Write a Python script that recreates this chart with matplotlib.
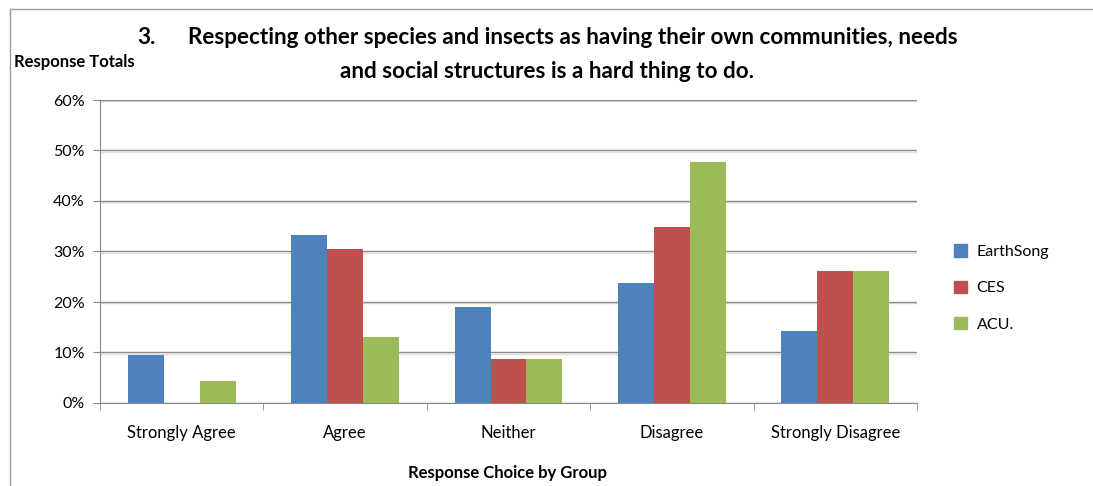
import numpy as np
import matplotlib.pyplot as plt
from matplotlib.patches import Rectangle
from matplotlib.lines import Line2D

categories = ["Strongly Agree", "Agree", "Neither", "Disagree", "Strongly Disagree"]
groups = ["EarthSong", "CES", "ACU."]
earthsong = [9.5, 33.3, 19.0, 23.8, 14.3]
ces = [0.0, 30.4, 8.7, 34.8, 26.1]
acu = [4.3, 13.0, 8.7, 47.8, 26.1]
colors = ["#4f81bd", "#c0504d", "#9bbb59"]

plt.rcParams['font.family'] = ['Lato', 'DejaVu Sans']

fig = plt.figure(figsize=(10.93, 4.86), dpi=100)
ax = fig.add_axes([100 / 1093, 1 - 403 / 486, 817 / 1093, 303 / 486])

x = np.arange(len(categories))
w = 0.22
for i, (vals, c, g) in enumerate(zip([earthsong, ces, acu], colors, groups)):
    ax.bar(x + (i - 1) * w, vals, width=w, color=c, label=g, zorder=3)

ax.set_xlim(-0.5, len(categories) - 0.5)
ax.set_ylim(0, 60)
ax.set_yticks(range(0, 61, 10))
ax.set_yticklabels([f"{v}%" for v in range(0, 61, 10)], fontsize=11.5)
ax.set_xticks(x)
ax.set_xticklabels(categories, fontsize=12)
ax.set_xticks(np.arange(-0.5, len(categories), 1), minor=True)
ax.tick_params(axis='x', which='major', length=0, pad=16)
ax.tick_params(axis='x', which='minor', length=5, color='#888888')
ax.tick_params(axis='y', length=5, color='#888888', pad=6)
ax.grid(axis='y', color='#8c8c8c', linewidth=1.0, zorder=0)
for y in range(10, 61, 10):
    ax.axhline(y - 0.25, color='#e0e0e0', linewidth=1.0, zorder=1)
for s in ['top', 'right']:
    ax.spines[s].set_visible(False)
for s in ['left', 'bottom']:
    ax.spines[s].set_color('#888888')

fig.text(508 / 1093, 1 - 473 / 486, "Response Choice by Group", ha='center', va='center',
         fontsize=12, fontweight='bold')

fig.text(137 / 1093, 1 - 37 / 486, "3.", ha='left', va='center', fontsize=16.2, fontweight='bold')
fig.text(188 / 1093, 1 - 37 / 486,
         "Respecting other species and insects as having their own communities, needs",
         ha='left', va='center', fontsize=16.2, fontweight='bold')
fig.text(547 / 1093, 1 - 71 / 486, "and social structures is a hard thing to do.",
         ha='center', va='center', fontsize=16.2, fontweight='bold')
fig.text(14 / 1093, 1 - 62 / 486, "Response Totals", ha='left', va='center',
         fontsize=12, fontweight='bold')

handles = [Rectangle((0, 0), 1, 1, color=c) for c in colors]
fig.legend(handles, groups, loc='center left', bbox_to_anchor=(940 / 1093, 1 - 288 / 486),
           frameon=False, fontsize=11.5, handlelength=0.8, handleheight=0.8,
           labelspacing=1.35, handletextpad=0.6)

# outer chart border (left and top)
fig.add_artist(Line2D([10 / 1093, 10 / 1093], [0, 1 - 9 / 486], color='#999999', lw=1))
fig.add_artist(Line2D([10 / 1093, 1], [1 - 9 / 486, 1 - 9 / 486], color='#999999', lw=1))

fig.savefig("out.png", dpi=100)
